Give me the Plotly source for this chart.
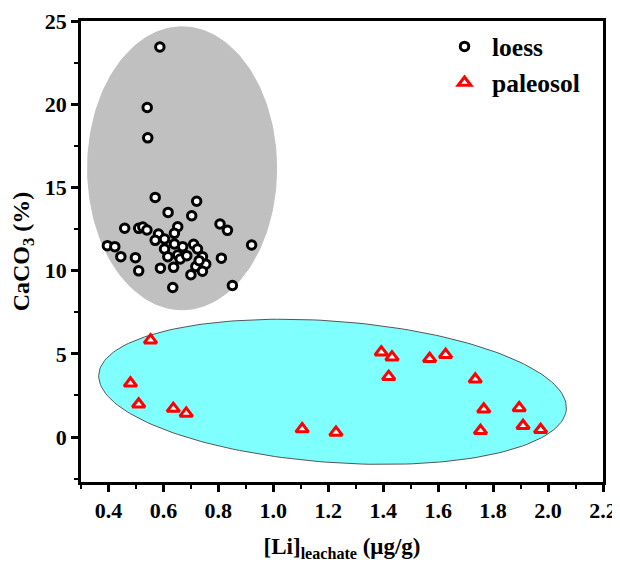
import numpy as np
import plotly.graph_objects as go

# ---- data ----
loess_x = [0.587, 0.541, 0.543, 0.570, 0.721, 0.617, 0.703, 0.459, 0.510, 0.525,
           0.540, 0.652, 0.640, 0.806, 0.833, 0.582, 0.570, 0.604, 0.640, 0.396,
           0.423, 0.921, 0.670, 0.710, 0.724, 0.604, 0.445, 0.498, 0.616, 0.652,
           0.661, 0.742, 0.811, 0.754, 0.718, 0.637, 0.589, 0.510, 0.700, 0.742,
           0.634, 0.851, 0.685, 0.730]
loess_y = [23.44, 19.80, 17.98, 14.40, 14.17, 13.50, 13.30, 12.55, 12.54, 12.62,
           12.44, 12.64, 12.24, 12.80, 12.42, 12.20, 11.82, 11.90, 11.60, 11.50,
           11.44, 11.54, 11.44, 11.58, 11.30, 11.30, 10.84, 10.78, 10.84, 10.94,
           10.70, 10.84, 10.75, 10.39, 10.25, 10.20, 10.15, 9.99, 9.75, 9.97,
           8.99, 9.11, 10.90, 10.60]

paleo_x = [0.553, 0.480, 0.510, 0.636, 0.683, 1.105, 1.228, 1.393, 1.432, 1.420,
           1.569, 1.627, 1.735, 1.766, 1.895, 1.754, 1.909, 1.973]
paleo_y = [5.82, 3.23, 1.97, 1.71, 1.42, 0.48, 0.28, 5.10, 4.80, 3.63,
           4.71, 4.95, 3.47, 1.67, 1.75, 0.38, 0.68, 0.44]

x_ticks = [0.4, 0.6, 0.8, 1.0, 1.2, 1.4, 1.6, 1.8, 2.0, 2.2]
y_ticks = [0, 5, 10, 15, 20, 25]

# ---- ellipse (group envelopes) ----
def ellipse(cx, cy, ux, uy, vx, vy, n=200):
    t = np.linspace(0, 2 * np.pi, n)
    return cx + ux * np.cos(t) + vx * np.sin(t), cy + uy * np.cos(t) + vy * np.sin(t)

gx, gy = ellipse(0.668, 16.15, 0.344, 0.0, 0.0, 8.5)
cx_, cy_ = ellipse(1.2156, 2.72, 0.851, -1.047, 0.019, 4.234)

FONT = "Liberation Serif"

fig = go.Figure()
fig.add_trace(go.Scatter(x=gx, y=gy, mode="lines", fill="toself",
                         fillcolor="#c0c0c0", line=dict(color="#c0c0c0", width=1),
                         showlegend=False, hoverinfo="skip"))
fig.add_trace(go.Scatter(x=cx_, y=cy_, mode="lines", fill="toself",
                         fillcolor="#80ffff", line=dict(color="#555555", width=1),
                         showlegend=False, hoverinfo="skip"))
fig.add_trace(go.Scatter(x=loess_x, y=loess_y, mode="markers", name="loess",
                         legendgroup="a",
                         marker=dict(symbol="circle", size=8.5, color="white",
                                     line=dict(color="black", width=3))))
fig.add_trace(go.Scatter(x=paleo_x, y=paleo_y, mode="markers", name="paleosol",
                         legendgroup="b",
                         marker=dict(symbol="triangle-up", size=11, color="white",
                                     line=dict(color="#ff0000", width=3))))

axis_common = dict(showline=True, linecolor="black", linewidth=2.5, mirror=True,
                   ticks="outside", tickwidth=2.5, ticklen=7, tickcolor="black",
                   showgrid=False, zeroline=False, automargin=False,
                   ticklabeloverflow="allow",
                   tickfont=dict(family=FONT, size=22, color="black", weight="bold"))

fig.update_xaxes(range=[0.3, 2.2], tickvals=x_ticks,
                 ticktext=[f"{v:.1f}" for v in x_ticks],
                 minor=dict(ticks="outside", ticklen=4, tickwidth=2, tickcolor="black",
                            tick0=0.3, dtick=0.1),
                 title=dict(text="<b>[Li]<sub>leachate</sub> (μg/g)</b>",
                            font=dict(family=FONT, size=23, color="black"), standoff=18),
                 **axis_common)
fig.update_yaxes(range=[-2.7, 25], tickvals=y_ticks,
                 minor=dict(ticks="outside", ticklen=4, tickwidth=2, tickcolor="black",
                            tick0=0, dtick=2.5),
                 title=dict(text="<b>CaCO<sub>3</sub> (%)</b>",
                            font=dict(family=FONT, size=24, color="black"), standoff=10),
                 **axis_common)

# the page body adds an 8px offset, so the figure is 8px smaller than the window
fig.update_layout(
    width=612, height=554,
    margin=dict(l=73, r=17, t=13, b=80),
    plot_bgcolor="white", paper_bgcolor="white",
    legend=dict(x=0.682, y=0.995, xanchor="left", yanchor="top",
                bgcolor="rgba(0,0,0,0)", tracegroupgap=0, itemwidth=45,
                font=dict(family=FONT, size=25.5, color="black", weight="bold")),
)

fig.write_html("out.html")
